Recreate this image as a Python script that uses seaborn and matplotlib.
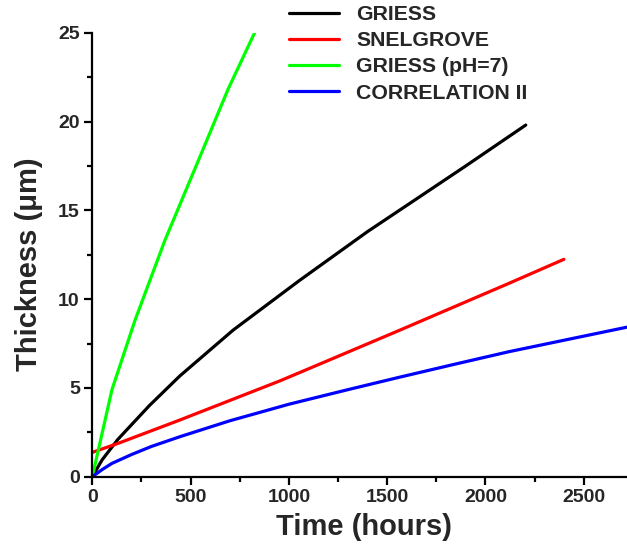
import matplotlib
matplotlib.use("Agg")
import matplotlib.pyplot as plt
from matplotlib.ticker import MultipleLocator
import seaborn as sns
import pandas as pd

# ---- data ----
series_names = ["GRIESS", "SNELGROVE", "GRIESS (pH=7)", "CORRELATION II"]
series_colors = ["#000000", "#FF0000", "#00FF00", "#0000FF"]

t_griess = [0, 50, 130, 290, 445, 716, 1054, 1400, 1630, 1900, 2205]
y_griess = [0, 0.95, 2.1, 4.0, 5.67, 8.25, 11.05, 13.8, 15.5, 17.5, 19.8]

t_snel = [0, 132, 445, 953, 1054, 1562, 2120, 2399]
y_snel = [1.37, 1.88, 3.19, 5.39, 5.86, 8.24, 10.89, 12.24]

t_ph7 = [0, 100, 217, 369, 547, 690, 830]
y_ph7 = [0, 4.9, 8.8, 13.3, 18.0, 21.8, 25.1]

t_corr = [0, 50, 100, 200, 300, 445, 700, 1000, 1300, 1562, 1850, 2120, 2450, 2720]
y_corr = [0, 0.4, 0.75, 1.25, 1.7, 2.25, 3.15, 4.08, 4.9, 5.6, 6.35, 7.04, 7.8, 8.42]

x_ticks = [0, 500, 1000, 1500, 2000, 2500]
y_ticks = [0, 5, 10, 15, 20, 25]

frames = []
for name, t, y in zip(series_names,
                      [t_griess, t_snel, t_ph7, t_corr],
                      [y_griess, y_snel, y_ph7, y_corr]):
    frames.append(pd.DataFrame({"Time": t, "Thickness": y, "Model": name}))
df = pd.concat(frames, ignore_index=True)

sns.set_style("ticks")
plt.rcParams["font.family"] = ["Liberation Sans", "DejaVu Sans"]
plt.rcParams["font.weight"] = "bold"

fig = plt.figure(figsize=(6.27, 5.46), dpi=100)
ax = fig.add_axes([92.3 / 627, 1 - 476.7 / 546, 1 - 92.3 / 627, (476.7 - 32.7) / 546])

sns.lineplot(data=df, x="Time", y="Thickness", hue="Model", hue_order=series_names,
             palette=dict(zip(series_names, series_colors)), sort=False,
             estimator=None, linewidth=2.3, ax=ax, legend=True)

ax.set_xlim(0, 2720)
ax.set_ylim(0, 25)
ax.set_xticks(x_ticks)
ax.set_yticks(y_ticks)
ax.xaxis.set_minor_locator(MultipleLocator(250))
ax.yaxis.set_minor_locator(MultipleLocator(2.5))

for s in ["top", "right"]:
    ax.spines[s].set_visible(False)
for s in ["left", "bottom"]:
    ax.spines[s].set_linewidth(1.6)
    ax.spines[s].set_color("black")

ax.tick_params(which="major", direction="out", length=6, width=1.6, color="black",
               labelsize=14, pad=3)
ax.tick_params(which="minor", direction="out", length=3.5, width=1.6, color="black")
for lab in ax.get_xticklabels() + ax.get_yticklabels():
    lab.set_fontweight("bold")

ax.set_xlabel("Time (hours)", fontsize=21, fontweight="bold")
ax.set_ylabel("Thickness (μm)", fontsize=21, fontweight="bold")
ax.xaxis.set_label_coords(0.508, -0.082)
ax.yaxis.set_label_coords(-0.093, 0.478)

handles, labels = ax.get_legend_handles_labels()
ax.get_legend().remove()
leg = fig.legend(handles, labels, loc="upper left",
                 bbox_to_anchor=(289 / 627, 1 - 5 / 546),
                 frameon=False, fontsize=15.3, handlelength=2.35,
                 handletextpad=0.82, labelspacing=0.34, borderpad=0,
                 borderaxespad=0)
for txt in leg.get_texts():
    txt.set_fontweight("bold")
for line in leg.get_lines():
    line.set_linewidth(2.3)

fig.savefig("out.png", dpi=100)
